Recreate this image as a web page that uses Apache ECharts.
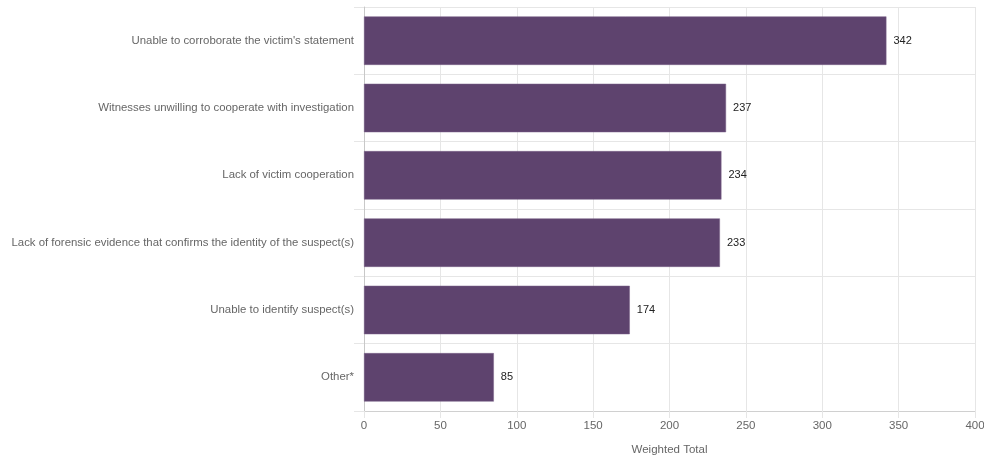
<!DOCTYPE html>
<html><head><meta charset="utf-8">
<script src="https://cdn.jsdelivr.net/npm/echarts@6/dist/echarts.min.js"></script>
<style>html,body{margin:0;padding:0;background:#fff}#c{width:984px;height:455px}</style>
</head><body><div id="c"></div>
<script>
const categories = [
  "Unable to corroborate the victim's statement",
  "Witnesses unwilling to cooperate with investigation",
  "Lack of victim cooperation",
  "Lack of forensic evidence that confirms the identity of the suspect(s)",
  "Unable to identify suspect(s)",
  "Other*"
];
const values = [342, 237, 234, 233, 174, 85];
const xTicks = { min: 0, max: 400, interval: 50 };
const xTitle = "Weighted Total";

const chart = echarts.init(document.getElementById('c'), null, {renderer: 'canvas'});
chart.setOption({
  animation: false,
  grid: { left: 364, right: 9, top: 7, bottom: 44, containLabel: false, outerBoundsMode: 'none' },
  xAxis: {
    type: 'value', min: xTicks.min, max: xTicks.max, interval: xTicks.interval,
    name: xTitle, nameLocation: 'middle', nameGap: 33,
    nameTextStyle: { color: '#666', fontSize: 11.5, fontFamily: 'Liberation Sans, Arial' },
    axisLine: { show: true, lineStyle: { color: '#d0d0d0' } },
    axisTick: { show: true, length: 7, lineStyle: { color: '#e6e6e6' } },
    axisLabel: { color: '#666', fontSize: 11.5, margin: 9, fontFamily: 'Liberation Sans, Arial' },
    splitLine: { show: true, lineStyle: { color: '#e6e6e6' } }
  },
  yAxis: {
    type: 'category', data: categories, inverse: true,
    axisLine: { show: true, lineStyle: { color: '#c8c8c8' } },
    axisTick: { show: true, length: 10, alignWithLabel: false, lineStyle: { color: '#e6e6e6' } },
    axisLabel: { color: '#666', fontSize: 11.4, margin: 10, fontFamily: 'Liberation Sans, Arial' },
    splitLine: { show: true, lineStyle: { color: '#e6e6e6' } }
  },
  series: [{
    type: 'bar', data: values, barCategoryGap: '28%',
    itemStyle: { color: '#5e436e', borderColor: '#7a6089', borderWidth: 0.5 },
    label: { show: true, position: 'right', distance: 7, color: '#222', fontSize: 11, fontFamily: 'Liberation Sans, Arial' }
  }]
});
</script></body></html>
